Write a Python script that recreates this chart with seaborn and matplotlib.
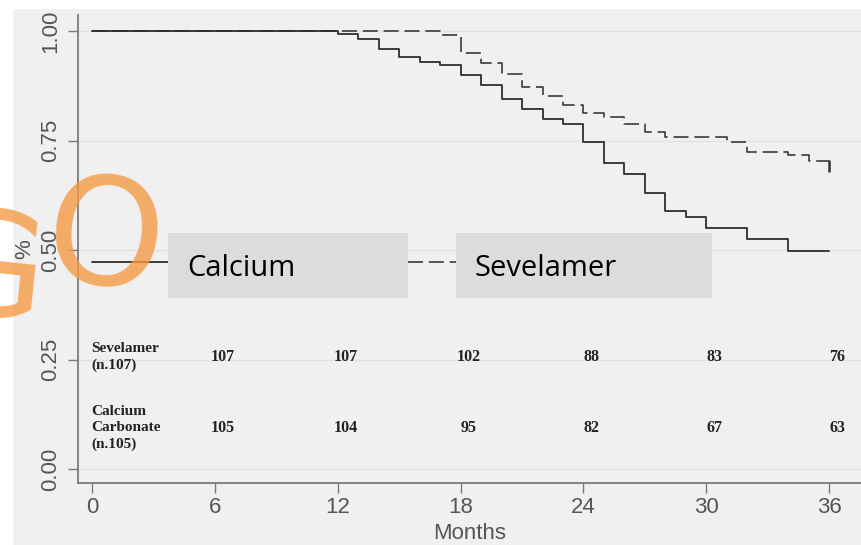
import matplotlib
matplotlib.use("Agg")
import matplotlib.pyplot as plt
import seaborn as sns
import pandas as pd
from matplotlib.patches import Rectangle
from matplotlib.lines import Line2D

# ---- data ----
calcium_months = [0, 12, 13, 14, 15, 16, 17, 18, 19, 20, 21, 22, 23, 24, 25, 26, 27, 28, 29, 30, 32, 34, 36]
calcium_surv = [1.0, 0.993, 0.982, 0.959, 0.941, 0.930, 0.922, 0.900, 0.877, 0.845, 0.822, 0.799,
                0.788, 0.746, 0.698, 0.674, 0.630, 0.590, 0.576, 0.550, 0.525, 0.497, 0.497]
sevelamer_months = [0, 17, 18, 19, 20, 21, 22, 23, 24, 25, 26, 27, 28, 31, 32, 34, 35, 36]
sevelamer_surv = [1.0, 0.991, 0.951, 0.928, 0.903, 0.873, 0.852, 0.832, 0.814, 0.803, 0.789,
                  0.770, 0.759, 0.746, 0.724, 0.718, 0.704, 0.704]

risk_times = [6, 12, 18, 24, 30, 36]
risk_sevelamer = [107, 107, 102, 88, 83, 76]
risk_calcium = [105, 104, 95, 82, 67, 63]
risk_labels = ["Sevelamer\n(n.107)", "Calcium\nCarbonate\n(n.105)"]
x_ticks = [0, 6, 12, 18, 24, 30, 36]
y_ticks = [0.0, 0.25, 0.5, 0.75, 1.0]
legend_names = ["Calcium", "Sevelamer"]

BG = "#f0f0f0"
sns.set_style("white")
plt.rcParams["font.family"] = ["Liberation Sans", "DejaVu Sans"]

fig = plt.figure(figsize=(8.62, 5.45), dpi=100, facecolor=BG)
W, H = 862, 545
ax = fig.add_axes([78 / W, 62 / H, 1 - 78 / W, (483 - 15) / H])
ax.set_facecolor(BG)

# white margins (top / left) of the original screenshot
fig.patches.append(Rectangle((0, 0), 12 / W, 1, transform=fig.transFigure, color="white", zorder=-1))
fig.patches.append(Rectangle((0, 1 - 8 / H), 1, 8 / H, transform=fig.transFigure, color="white", zorder=-1))

df_cal = pd.DataFrame({"month": calcium_months, "surv": calcium_surv})
df_sev = pd.DataFrame({"month": sevelamer_months, "surv": sevelamer_surv})

ax.set_xlim(-0.68, 37.6)
ax.set_ylim(-0.032, 1.037)

for y in y_ticks:
    ax.axhline(y, color="#e2e2e2", lw=1.0, zorder=0)

sns.lineplot(data=df_sev, x="month", y="surv", ax=ax, drawstyle="steps-post", estimator=None,
             color="#3a3a3a", lw=1.2, dashes=False, sort=False, zorder=2)
ax.lines[-1].set_dashes((9, 3.5))
sns.lineplot(data=df_cal, x="month", y="surv", ax=ax, drawstyle="steps-post", estimator=None,
             color="#2e2e2e", lw=1.3, sort=False, zorder=3)
# censor mark at end of Sevelamer curve
ax.plot([sevelamer_months[-1]], [sevelamer_surv[-1] - 0.012], marker="|", ms=9, mew=1.8,
        color="#333333", ls="none", zorder=4)

# spines / ticks
for s in ["top", "right"]:
    ax.spines[s].set_visible(False)
for s in ["left", "bottom"]:
    ax.spines[s].set_color("#7a7a7a")
    ax.spines[s].set_linewidth(1.3)
ax.set_xticks(x_ticks)
ax.set_yticks(y_ticks)
ax.set_yticklabels([f"{v:.2f}" for v in y_ticks], rotation=90, va="center")
ax.tick_params(axis="both", direction="out", length=7, width=1.0, color="#7a7a7a",
               labelsize=16, labelcolor="#555555", bottom=True, left=True)
ax.tick_params(axis="y", pad=5)
ax.tick_params(axis="x", pad=3)
ax.set_xlabel("Months", fontsize=16, color="#555555", labelpad=4)
ax.set_ylabel("%", fontsize=16, color="#555555", labelpad=4)

# risk table
serif = ["Liberation Serif", "DejaVu Serif"]
ax.text(-0.05, 0.256, risk_labels[0], ha="left", va="center", fontsize=11, fontweight="bold",
        family=serif, color="#222222", linespacing=1.35)
ax.text(-0.05, 0.094, risk_labels[1], ha="left", va="center", fontsize=11, fontweight="bold",
        family=serif, color="#222222", linespacing=1.35)
for t, n in zip(risk_times, risk_sevelamer):
    ax.text(t + 0.4, 0.256, str(n), ha="center", va="center", fontsize=11.5, fontweight="bold",
            family=serif, color="#222222")
for t, n in zip(risk_times, risk_calcium):
    ax.text(t + 0.4, 0.094, str(n), ha="center", va="center", fontsize=11.5, fontweight="bold",
            family=serif, color="#222222")

# custom legend (grey boxes)
def axx(px):
    return (px - 78) / 784.0
def axy(py):
    return (483 - py) / 468.0

ax.add_line(Line2D([axx(92), axx(168)], [axy(262), axy(262)], transform=ax.transAxes,
                   color="#2e2e2e", lw=1.3, zorder=5))
ax.add_patch(Rectangle((axx(168), axy(298)), axx(408) - axx(168), axy(233) - axy(298),
                       transform=ax.transAxes, color="#dcdcdc", zorder=5, lw=0))
ax.text(axx(187), axy(268), legend_names[0], transform=ax.transAxes, fontsize=21,
        family=["Open Sans", "DejaVu Sans"], va="center", ha="left", color="black", zorder=6)
ax.add_line(Line2D([axx(408), axx(456)], [axy(262), axy(262)], transform=ax.transAxes,
                   color="#3a3a3a", lw=1.2, dashes=(9, 3.5), zorder=5))
ax.add_patch(Rectangle((axx(456), axy(298)), axx(712) - axx(456), axy(233) - axy(298),
                       transform=ax.transAxes, color="#dcdcdc", zorder=5, lw=0))
ax.text(axx(475), axy(268), legend_names[1], transform=ax.transAxes, fontsize=21,
        family=["Open Sans", "DejaVu Sans"], va="center", ha="left", color="black", zorder=6)

# orange hand-drawn "GO" overlay (as text)
orange = "#f59a45"
fig.text(105 / W, 1 - 244 / H, "O", fontsize=108, color=orange, alpha=0.8, family=["DejaVu Sans"],
         ha="center", va="center", rotation=-6, rotation_mode="anchor", zorder=10)
fig.text(-10 / W, 1 - 276 / H, "G", fontsize=104, color=orange, alpha=0.8, family=["DejaVu Sans"],
         ha="center", va="center", rotation=-6, rotation_mode="anchor", zorder=10)

fig.savefig("out.png", dpi=100, facecolor=BG)
